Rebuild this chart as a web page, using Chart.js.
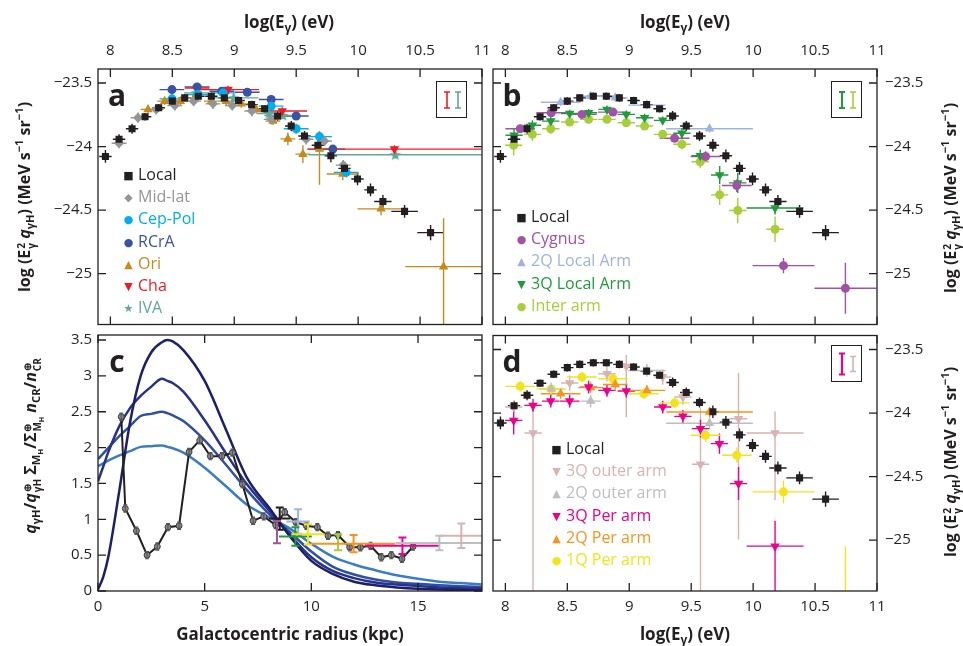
<!DOCTYPE html>
<html>
<head>
<meta charset="utf-8">
<script src="https://cdn.jsdelivr.net/npm/chart.js@4.4.0/dist/chart.umd.min.js"></script>
<style>
  body { margin: 0; width: 963px; height: 646px; overflow: hidden; position: relative; background: #fff;
         font-family: "Open Sans", sans-serif; color: #231f20; }
  canvas { position: absolute; }
  .title { position: absolute; font-weight: bold; font-size: 16px; white-space: nowrap; transform: translate(-50%, -50%); }
  .big   { font-size: 17px; }
  .rot   { transform: translate(-50%, -50%) rotate(-90deg); }
  sub, sup { font-size: 70%; line-height: 0; }
  .st { display: inline-flex; flex-direction: column; font-size: 10px; line-height: 10px; vertical-align: middle; margin-left: 1px; }
  .letter { position: absolute; font-weight: bold; font-size: 30px; line-height: 30px; transform: translate(-50%, -50%); }
  .lg     { position: absolute; font-size: 16px; white-space: nowrap; }
  .lg div { height: 22.2px; line-height: 22px; overflow: visible; }
  .lg i   { font-style: normal; display: inline-block; width: 11px; line-height: 1; font-family: "DejaVu Sans", sans-serif;
            font-size: 11px; text-align: center; margin-right: 4px; vertical-align: 1px; }
  .ebox { position: absolute; width: 31px; height: 37px; border: 1.3px solid #231f20; box-sizing: border-box; }
</style>
</head>
<body>
<canvas id="pa" width="490" height="330" style="left:0;top:0"></canvas>
<canvas id="pb" width="478" height="330" style="left:485px;top:0"></canvas>
<canvas id="pc" width="490" height="316" style="left:0;top:330px"></canvas>
<canvas id="pd" width="478" height="316" style="left:485px;top:330px"></canvas>

<!-- axis titles -->
<div class="title big" style="left:289px;top:21px">log(E<sub>γ</sub>) (eV)</div>
<div class="title big" style="left:685px;top:21px">log(E<sub>γ</sub>) (eV)</div>
<div class="title big" style="left:290px;top:633px">Galactocentric radius (kpc)</div>
<div class="title big" style="left:685px;top:633px">log(E<sub>γ</sub>) (eV)</div>
<div class="title rot" style="left:24px;top:197px">log (E<span class="st"><span>2</span><span>γ</span></span> <i>q</i><sub>γH</sub>) (MeV s<sup>−1</sup> sr<sup>−1</sup>)</div>
<div class="title rot" style="left:950px;top:198px">log (E<span class="st"><span>2</span><span>γ</span></span> <i>q</i><sub>γH</sub>) (MeV s<sup>−1</sup> sr<sup>−1</sup>)</div>
<div class="title rot" style="left:950px;top:462px">log (E<span class="st"><span>2</span><span>γ</span></span> <i>q</i><sub>γH</sub>) (MeV s<sup>−1</sup> sr<sup>−1</sup>)</div>
<div class="title rot" style="left:30px;top:446px"><i>q</i><sub>γH</sub>/<i>q</i><span class="st"><span>⊕</span><span>γH</span></span> Σ<sub>M<sub>H</sub></sub>/Σ<span class="st"><span>⊕</span><span>M<sub>H</sub></span></span> <i>n</i><sub>CR</sub>/<i>n</i><span class="st"><span>⊕</span><span>CR</span></span></div>

<!-- panel letters -->
<div class="letter" style="left:117px;top:95px">a</div>
<div class="letter" style="left:512px;top:95px">b</div>
<div class="letter" style="left:117px;top:361px">c</div>
<div class="letter" style="left:512px;top:361px">d</div>

<div id="legends"></div>

<script>
// ── Shared ticks ───────────────────────────────
const E_TICKS     = [8, 8.5, 9, 9.5, 10, 10.5, 11];
const Q_TICKS     = [-25, -24.5, -24, -23.5];
const R_TICKS     = [0, 5, 10, 15];
const RATIO_TICKS = [0, 0.5, 1, 1.5, 2, 2.5, 3, 3.5];

// ── Local (black squares, panels a, b, d) ─────
const LOCAL_X  = [7.96, 8.07, 8.175, 8.28, 8.39, 8.5, 8.6, 8.71, 8.815, 8.92, 9.035, 9.14, 9.245, 9.35, 9.46, 9.567, 9.675, 9.78, 9.89, 9.995, 10.1, 10.2, 10.375, 10.585];
const LOCAL_Y  = [-24.078, -23.943, -23.86, -23.766, -23.695, -23.643, -23.617, -23.604, -23.604, -23.617, -23.638, -23.67, -23.703, -23.76, -23.839, -23.917, -23.99, -24.073, -24.172, -24.255, -24.341, -24.432, -24.51, -24.677];
const LOCAL_XE = [0.05, 0.05, 0.05, 0.05, 0.05, 0.05, 0.05, 0.05, 0.05, 0.05, 0.05, 0.05, 0.05, 0.05, 0.05, 0.05, 0.05, 0.05, 0.05, 0.05, 0.05, 0.07, 0.107, 0.107];
const LOCAL_YE = [0.05, 0.04, 0.04, 0.03, 0.03, 0.03, 0.03, 0.03, 0.03, 0.03, 0.03, 0.03, 0.03, 0.04, 0.04, 0.04, 0.05, 0.05, 0.05, 0.05, 0.05, 0.05, 0.05, 0.06];

// ── Panel a ────────────────────────────────────
const MID_X = [8.07, 8.223, 8.37, 8.52, 8.672, 8.828, 8.984, 9.142, 9.298, 9.58, 9.728, 9.88];
const MID_Y = [-23.974, -23.773, -23.708, -23.677, -23.643, -23.664, -23.677, -23.721, -23.786, -23.943, -23.956, -24.146];
const CEP_X = [8.497, 8.707, 8.91, 9.298, 9.5, 9.688, 9.903];
const CEP_Y = [-23.625, -23.591, -23.578, -23.682, -23.86, -23.922, -24.203];
const RCR_X = [8.497, 8.70, 8.9, 9.105, 9.298, 9.5, 9.796];
const RCR_Y = [-23.552, -23.531, -23.565, -23.573, -23.63, -23.76, -24.02];
const ORI_X  = [8.304, 8.438, 8.565, 8.68, 8.815, 8.935, 9.056, 9.177, 9.312, 9.433, 9.554, 9.688, 9.876, 10.185, 10.69];
const ORI_Y  = [-23.708, -23.643, -23.643, -23.617, -23.643, -23.643, -23.664, -23.708, -23.8, -23.94, -24.06, -24.02, -24.216, -24.49, -24.945];
const ORI_XE = [0.06, 0.06, 0.06, 0.06, 0.06, 0.06, 0.06, 0.06, 0.06, 0.06, 0.06, 0.1, 0.13, 0.19, 0.31];
const ORI_YE = [0.03, 0.03, 0.03, 0.03, 0.03, 0.03, 0.03, 0.03, 0.03, 0.05, 0.07, [0.28, 0.14], 0.05, 0.05, [0.6, 0.38]];
const CHA_X  = [8.70, 8.95, 9.387, 10.293];
const CHA_Y  = [-23.539, -23.552, -23.721, -24.02];
const CHA_XE = [0.1, 0.25, 0.2, 0.7];
const IVA_X  = [8.694, 8.995, 9.28, 9.392, 10.30];
const IVA_Y  = [-23.578, -23.617, -23.74, -23.755, -24.065];
const IVA_XE = [0.1, 0.2, 0.1, 0.15, 0.7];

// ── Panel b ────────────────────────────────────
const CYG_X  = [8.12, 8.37, 8.618, 8.868, 9.366, 9.616, 9.868, 10.245, 10.745];
const CYG_Y  = [-23.86, -23.734, -23.747, -23.729, -23.935, -24.078, -24.307, -24.937, -25.115];
const CYG_XE = [0.12, 0.12, 0.12, 0.12, 0.12, 0.12, 0.12, 0.25, 0.25];
const CYG_YE = [0.03, 0.03, 0.03, 0.03, 0.03, 0.04, 0.05, 0.06, 0.2];
const LA2_X  = [8.446, 8.688, 8.887, 9.142, 9.648];
const LA2_Y  = [-23.651, -23.604, -23.617, -23.674, -23.86];
const LA2_XE = [0.16, 0.1, 0.1, 0.15, 0.35];
const LA3_X  = [8.07, 8.218, 8.366, 8.519, 8.672, 8.82, 8.976, 9.124, 9.27, 9.425, 9.573, 9.73, 9.876, 10.177];
const LA3_Y  = [-23.911, -23.833, -23.8, -23.74, -23.734, -23.708, -23.747, -23.773, -23.794, -23.896, -24.073, -24.224, -24.286, -24.484];
const LA3_XE = [0.07, 0.07, 0.07, 0.07, 0.07, 0.07, 0.07, 0.07, 0.07, 0.07, 0.07, 0.07, 0.07, 0.23];
const LA3_YE = [0.05, 0.04, 0.04, 0.03, 0.03, 0.03, 0.03, 0.03, 0.03, 0.04, 0.05, 0.07, 0.08, 0.05];
const INT_X  = [8.067, 8.218, 8.366, 8.519, 8.672, 8.82, 8.976, 9.124, 9.27, 9.425, 9.573, 9.73, 9.876, 10.177];
const INT_Y  = [-23.99, -23.904, -23.86, -23.807, -23.786, -23.786, -23.813, -23.839, -23.904, -23.982, -24.12, -24.38, -24.503, -24.651];
const INT_YE = [0.08, 0.05, 0.04, 0.03, 0.03, 0.03, 0.03, 0.03, 0.03, 0.04, 0.05, 0.08, 0.1, 0.1];

// ── Panel d ────────────────────────────────────
const O3_X  = [8.067, 8.223, 8.519, 8.82, 8.976, 9.27, 9.433, 9.575, 9.882, 10.177];
const O3_Y  = [-23.953, -24.157, -23.764, -23.691, -23.634, -23.717, -23.874, -24.403, -24.045, -24.157];
const O3_XE = [0.07, 0.07, 0.07, 0.07, 0.07, 0.07, 0.07, 0.07, 0.07, 0.23];
const O3_YE = [0.05, [1.5, 0.2], 0.06, 0.06, [0.4, 0.09], 0.06, 0.06, [1.5, 0.44], [0.95, 0.36], [0.53, 0.17]];
const O2_X  = [8.37, 8.688, 9.142, 9.648];
const O2_Y  = [-23.81, -23.906, -23.665, -24.08];
const O2_XE = [0.1, 0.08, 0.15, 0.35];
const P3_X  = [8.067, 8.223, 8.366, 8.519, 8.672, 8.82, 8.976, 9.27, 9.433, 9.575, 9.728, 9.882, 10.177];
const P3_Y  = [-24.058, -23.94, -23.906, -23.906, -23.796, -23.822, -23.827, -23.953, -24.026, -24.123, -24.241, -24.555, -25.047];
const P3_XE = [0.07, 0.07, 0.07, 0.08, 0.07, 0.07, 0.07, 0.07, 0.07, 0.07, 0.07, 0.07, 0.23];
const P3_YE = [0.11, 0.05, 0.05, 0.05, 0.05, 0.05, 0.05, 0.05, 0.05, 0.07, 0.08, 0.13, [0.8, 0.2]];
const P2_X  = [8.446, 8.688, 8.887, 9.142, 9.648];
const P2_Y  = [-23.848, -23.8, -23.775, -23.822, -23.992];
const P2_XE = [0.16, 0.1, 0.1, 0.15, 0.35];
const Q1_X  = [8.12, 8.37, 8.618, 8.868, 9.118, 9.366, 9.616, 9.868, 10.245, 10.745];
const Q1_Y  = [-23.79, -23.81, -23.717, -23.73, -23.848, -23.92, -24.175, -24.332, -24.62, -25.7];
const Q1_XE = [0.12, 0.12, 0.12, 0.12, 0.12, 0.12, 0.12, 0.12, 0.25, 0];
const Q1_YE = [0.04, 0.04, 0.04, 0.04, 0.04, 0.04, 0.05, 0.06, 0.09, [1, 0.65]];

// ── Panel c ────────────────────────────────────
const RAD_X  = [1.09, 1.28, 1.80, 2.30, 2.78, 3.28, 3.80, 4.27, 4.77, 5.27, 5.81, 6.30, 6.77, 7.27, 7.77, 8.33, 8.75, 9.27, 9.77, 10.28, 10.78, 11.25, 11.80, 12.30, 12.78, 13.28, 13.75, 14.25, 14.77];
const RAD_Y  = [2.43, 1.15, 0.84, 0.50, 0.62, 0.89, 0.91, 1.94, 2.10, 1.88, 1.88, 1.93, 1.49, 0.98, 1.04, 0.92, 1.10, 0.96, 0.91, 0.89, 0.77, 0.78, 0.61, 0.61, 0.63, 0.47, 0.50, 0.45, 0.62];
const CURVE_X = [0, 0.25, 0.5, 1, 1.5, 2, 2.5, 3, 3.25, 3.5, 4, 5, 6, 7, 8, 9, 10, 11, 12, 13, 14, 15, 16, 17, 18];
const CURVE1  = [0.02, 0.2, 0.5, 1.4, 2.35, 3.0, 3.33, 3.47, 3.5, 3.48, 3.36, 2.93, 2.25, 1.57, 1.17, 0.76, 0.42, 0.24, 0.13, 0.08, 0.05, 0.03, 0.02, 0.015, 0.01];
const CURVE2  = [1.53, 1.74, 1.95, 2.3, 2.55, 2.72, 2.85, 2.96, 2.93, 2.9, 2.78, 2.38, 1.92, 1.48, 1.13, 0.78, 0.47, 0.28, 0.18, 0.12, 0.09, 0.07, 0.05, 0.04, 0.03];
const CURVE3  = [1.84, 1.92, 2.0, 2.16, 2.3, 2.44, 2.47, 2.5, 2.48, 2.45, 2.37, 2.1, 1.76, 1.4, 1.08, 0.82, 0.55, 0.34, 0.23, 0.16, 0.12, 0.10, 0.08, 0.065, 0.055];
const CURVE4  = [1.74, 1.78, 1.82, 1.89, 1.95, 2.01, 2.02, 2.03, 2.01, 1.99, 1.93, 1.72, 1.46, 1.2, 1.03, 0.87, 0.66, 0.48, 0.37, 0.29, 0.22, 0.17, 0.13, 0.11, 0.09];
const CROSS_X  = [8.52, 8.39, 9.38, 9.25, 9.84, 11.25, 11.98, 14.27, 16.0, 17.03];
const CROSS_Y  = [1.01, 0.82, 0.97, 0.76, 0.79, 0.68, 0.66, 0.63, 0.67, 0.77];
const CROSS_XE = [0.5, 0, 0.55, 0.77, 0.78, 0, 1.95, 1.76, 2.05, 1.0];
const CROSS_YE = [0.155, 0.155, 0.17, 0.13, 0.14, 0.11, 0.12, 0.115, 0.1, 0.17];

// ── Colours ────────────────────────────────────
const C = {
  local: '#231f20', mid: '#939598', cep: '#00aeef', rcra: '#3953a4', ori: '#c8891c', cha: '#ed1c24', iva: '#5fa89a',
  cyg: '#a152a5', la2: '#9db3e0', la3: '#1f9a3c', inter: '#a6ce39',
  o3: '#d9b2b2', o2: '#bcbec0', p3: '#ec008c', p2: '#f7941d', q1: '#f2e41c'
};
const CROSS_COLORS = ['#231f20', C.cyg, C.la2, C.la3, C.q1, C.inter, C.p2, C.p3, C.o2, C.o3];
const CURVE_COLORS = ['#1c1f6b', '#27328b', '#2e4fa3', '#3b7dc4'];

Chart.defaults.font.family = '"Open Sans", sans-serif';
Chart.defaults.font.size = 15;
Chart.defaults.color = '#231f20';

// ── Helpers ────────────────────────────────────
function pts(xs, ys) { return xs.map((x, i) => ({ x, y: ys[i] })); }
function pick(e, j) { return Array.isArray(e) ? e[j] : (e || 0); }

function starImg(color) {
  const c = document.createElement('canvas');
  c.width = c.height = 13;
  const g = c.getContext('2d');
  g.fillStyle = color;
  g.beginPath();
  for (let i = 0; i < 10; i++) {
    const a = -Math.PI / 2 + i * Math.PI / 5, r = i % 2 ? 2.6 : 6.2;
    g.lineTo(6.5 + r * Math.cos(a), 6.8 + r * Math.sin(a));
  }
  g.closePath(); g.fill();
  return c;
}

function series(xs, ys, xe, ye, color, style, extra) {
  return Object.assign({
    data: pts(xs, ys), xerr: xe, yerr: ye,
    backgroundColor: color, borderColor: color, errColor: color,
    pointStyle: style, pointRadius: 4.5, pointBorderWidth: 0, showLine: false
  }, extra || {});
}
const down = { pointRotation: 180 };
const localSet = () => series(LOCAL_X, LOCAL_Y, LOCAL_XE, LOCAL_YE, C.local, 'rect', { pointRadius: 5 });

function fmt(v) { return v < 0 ? '\u2212' + Math.abs(v) : String(v); }

function axis(pos, min, max, ticks, size, pad) {
  const horiz = pos === 'top' || pos === 'bottom';
  return {
    type: 'linear', position: pos, min, max,
    grid: { display: false, drawTicks: false }, border: { display: false },
    ticks: { padding: pad, callback: fmt, autoSkip: false, maxRotation: 0 },
    afterBuildTicks: s => { s.ticks = ticks.map(v => ({ value: v })); },
    afterFit: s => {
      if (horiz) s.height = size; else s.width = size;
      s.paddingLeft = s.paddingRight = s.paddingTop = s.paddingBottom = 0;
    }
  };
}

// error bars drawn through the chart's own scales
function drawErr(chart, layer) {
  const { ctx, chartArea: a, scales: { x, y } } = chart;
  ctx.save();
  ctx.beginPath(); ctx.rect(a.left, a.top, a.right - a.left, a.bottom - a.top); ctx.clip();
  chart.data.datasets.forEach(ds => {
    if (!ds.xerr && !ds.yerr) return;
    if ((ds.errLayer || 'before') !== layer) return;
    ctx.strokeStyle = ds.errColor; ctx.lineWidth = ds.errWidth || 1.4;
    const cap = ds.cap || 0;
    ds.data.forEach((p, j) => {
      const px = x.getPixelForValue(p.x), py = y.getPixelForValue(p.y);
      const xe = pick(ds.xerr, j), ye = pick(ds.yerr, j);
      ctx.beginPath();
      if (xe) { ctx.moveTo(x.getPixelForValue(p.x - xe), py); ctx.lineTo(x.getPixelForValue(p.x + xe), py); }
      if (ye) {
        const lo = Array.isArray(ye) ? ye[0] : ye, hi = Array.isArray(ye) ? ye[1] : ye;
        const y0 = y.getPixelForValue(p.y - lo), y1 = y.getPixelForValue(p.y + hi);
        ctx.moveTo(px, y0); ctx.lineTo(px, y1);
        if (cap) { ctx.moveTo(px - cap, y0); ctx.lineTo(px + cap, y0); ctx.moveTo(px - cap, y1); ctx.lineTo(px + cap, y1); }
      }
      ctx.stroke();
    });
  });
  ctx.restore();
}
const errorBars = {
  id: 'errorBars',
  beforeDatasetsDraw: c => drawErr(c, 'before'),
  afterDatasetsDraw:  c => drawErr(c, 'after')
};

// box with inward ticks on all four sides
const frame = {
  id: 'frame',
  afterDraw(chart) {
    const { ctx, chartArea: a, scales: { x, y } } = chart;
    ctx.save();
    ctx.strokeStyle = '#231f20'; ctx.lineWidth = 1.3;
    ctx.strokeRect(a.left, a.top, a.right - a.left, a.bottom - a.top);
    ctx.beginPath();
    x.ticks.forEach(t => {
      const p = x.getPixelForValue(t.value);
      ctx.moveTo(p, a.top); ctx.lineTo(p, a.top + 8);
      ctx.moveTo(p, a.bottom); ctx.lineTo(p, a.bottom - 8);
    });
    y.ticks.forEach(t => {
      const p = y.getPixelForValue(t.value);
      ctx.moveTo(a.left, p); ctx.lineTo(a.left + 8, p);
      ctx.moveTo(a.right, p); ctx.lineTo(a.right - 8, p);
    });
    ctx.stroke();
    ctx.restore();
  }
};

function panel(id, datasets, xs, ys, pad) {
  return new Chart(document.getElementById(id), {
    type: 'scatter',
    data: { datasets },
    options: {
      responsive: false, animation: false,
      layout: { padding: pad },
      plugins: { legend: { display: false }, tooltip: { enabled: false } },
      scales: { x: xs, y: ys }
    },
    plugins: [errorBars, frame]
  });
}

// ── Panel a ────────────────────────────────────
panel('pa', [
  localSet(),
  series(MID_X, MID_Y, 0.06, 0.04, C.mid, 'rectRot', { pointRadius: 5 }),
  series(CEP_X, CEP_Y, 0.1, 0.04, C.cep, 'circle'),
  series(RCR_X, RCR_Y, 0.1, 0.03, C.rcra, 'circle'),
  series(ORI_X, ORI_Y, ORI_XE, ORI_YE, C.ori, 'triangle', { pointRadius: 5.5 }),
  series(CHA_X, CHA_Y, CHA_XE, 0.03, C.cha, 'triangle', Object.assign({ pointRadius: 5.5 }, down)),
  series(IVA_X, IVA_Y, IVA_XE, 0.03, C.iva, starImg(C.iva))
], axis('top', 7.9, 11, E_TICKS, 69, 9), axis('left', -25.4, -23.39, Q_TICKS, 98, 6),
   { left: 0, right: 8, top: 0, bottom: 4 });

// ── Panel b ────────────────────────────────────
panel('pb', [
  localSet(),
  series(CYG_X, CYG_Y, CYG_XE, CYG_YE, C.cyg, 'circle'),
  series(LA2_X, LA2_Y, LA2_XE, 0.03, C.la2, 'triangle', { pointRadius: 5.5 }),
  series(LA3_X, LA3_Y, LA3_XE, LA3_YE, C.la3, 'triangle', Object.assign({ pointRadius: 5.5 }, down)),
  series(INT_X, INT_Y, 0.07, INT_YE, C.inter, 'circle')
], axis('top', 7.9, 11, E_TICKS, 69, 9), axis('right', -25.4, -23.39, Q_TICKS, 86, 8),
   { left: 8, right: 0, top: 0, bottom: 4 });

// ── Panel c ────────────────────────────────────
const crossSets = CROSS_X.map((x, i) => ({
  data: [{ x, y: CROSS_Y[i] }], xerr: [CROSS_XE[i]], yerr: [CROSS_YE[i]],
  errColor: CROSS_COLORS[i], errWidth: 2, cap: 4, errLayer: 'after', pointRadius: 0
}));
panel('pc', [
  { data: pts(RAD_X, RAD_Y), showLine: true, borderColor: '#231f20', borderWidth: 2,
    pointRadius: 3, pointBackgroundColor: '#8a8a8a', pointBorderColor: '#3a3a3a', pointBorderWidth: 1,
    yerr: 0.05, errColor: '#555', cap: 2, errWidth: 1.2, errLayer: 'after' },
  ...crossSets,
  ...[CURVE1, CURVE2, CURVE3, CURVE4].map((ys, i) => ({
    data: pts(CURVE_X, ys), showLine: true, borderColor: CURVE_COLORS[i], borderWidth: 2.5,
    pointRadius: 0, cubicInterpolationMode: 'monotone'
  }))
], axis('bottom', 0, 18, R_TICKS, 55, 7), axis('left', 0, 3.57, RATIO_TICKS, 98, 6),
   { left: 0, right: 8, top: 4, bottom: 0 });

// ── Panel d ────────────────────────────────────
panel('pd', [
  localSet(),
  series(O3_X, O3_Y, O3_XE, O3_YE, C.o3, 'triangle', Object.assign({ pointRadius: 5.5 }, down)),
  series(O2_X, O2_Y, O2_XE, 0.05, C.o2, 'triangle', { pointRadius: 5.5 }),
  series(P3_X, P3_Y, P3_XE, P3_YE, C.p3, 'triangle', Object.assign({ pointRadius: 5.5 }, down)),
  series(P2_X, P2_Y, P2_XE, 0.04, C.p2, 'triangle', { pointRadius: 5.5 }),
  series(Q1_X, Q1_Y, Q1_XE, Q1_YE, C.q1, 'circle')
], axis('bottom', 7.9, 11, E_TICKS, 55, 7), axis('right', -25.4, -23.39, Q_TICKS, 86, 8),
   { left: 8, right: 0, top: 4, bottom: 0 });

// ── Legends ────────────────────────────────────
const LEGENDS = [
  { x: 123, y: 163, rows: [['■', 'Local', C.local], ['◆', 'Mid-lat', C.mid], ['●', 'Cep-Pol', C.cep], ['●', 'RCrA', C.rcra],
                          ['▲', 'Ori', C.ori], ['▼', 'Cha', C.cha], ['★', 'IVA', C.iva]] },
  { x: 516, y: 205, rows: [['■', 'Local', C.local], ['●', 'Cygnus', C.cyg], ['▲', '2Q Local Arm', C.la2],
                          ['▼', '3Q Local Arm', C.la3], ['●', 'Inter arm', C.inter]] },
  { x: 551, y: 437, rows: [['■', 'Local', C.local], ['▼', '3Q outer arm', C.o3], ['▲', '2Q outer arm', C.o2],
                          ['▼', '3Q Per arm', C.p3], ['▲', '2Q Per arm', C.p2], ['●', '1Q Per arm', C.q1]] }
];
const holder = document.getElementById('legends');
LEGENDS.forEach(l => {
  const d = document.createElement('div');
  d.className = 'lg';
  d.style.left = l.x + 'px'; d.style.top = l.y + 'px';
  d.innerHTML = l.rows.map(r => `<div style="color:${r[2]}"><i>${r[0]}</i>${r[1]}</div>`).join('');
  holder.appendChild(d);
});

// ── Error-size boxes (top right of a, b, d) ────
const EBOXES = [
  { x: 436, y: 81,  bars: [[C.cha, 16, 1.6], [C.iva, 16, 1.6]] },
  { x: 831, y: 81,  bars: [[C.la3, 16, 2], [C.inter, 16, 1.6]] },
  { x: 831, y: 345, bars: [[C.p3, 21, 2.2], [C.o3, 15, 1.6]] }
];
EBOXES.forEach(b => {
  const d = document.createElement('div');
  d.className = 'ebox';
  d.style.left = b.x + 'px'; d.style.top = b.y + 'px';
  const svg = b.bars.map((s, i) => {
    const cx = 10 + i * 11, y0 = 18 - s[1] / 2, y1 = 18 + s[1] / 2;
    return `<path d="M${cx} ${y0}V${y1}M${cx - 3} ${y0}H${cx + 3}M${cx - 3} ${y1}H${cx + 3}" stroke="${s[0]}" stroke-width="${s[2]}" fill="none"/>`;
  }).join('');
  d.innerHTML = `<svg width="29" height="35" style="position:absolute;left:0;top:0">${svg}</svg>`;
  document.body.appendChild(d);
});
</script>
</body>
</html>
